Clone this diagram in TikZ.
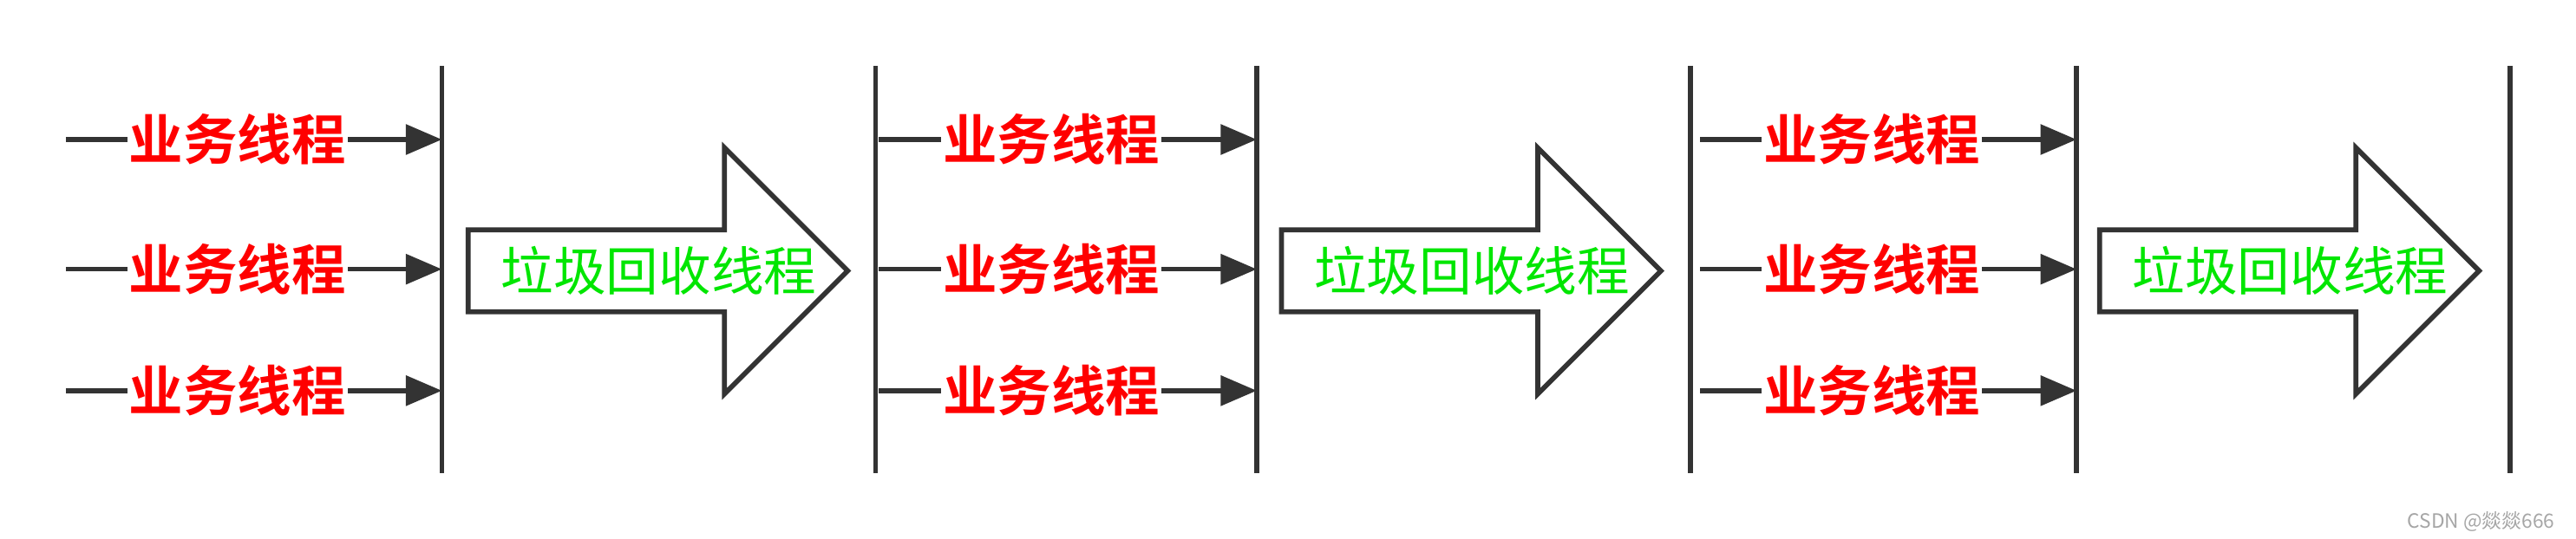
\documentclass[tikz,border=0pt]{standalone}
\usepackage{fontspec}
\newfontfamily\cjk{Noto Sans CJK SC}
\newfontfamily\cjkb{Noto Sans CJK SC Bold}
\usetikzlibrary{arrows.meta}
\definecolor{dk}{HTML}{333333}
\tikzset{
 wl/.style={draw=dk,line width=1.5pt},
 biz/.style={fill=white,inner sep=0.5pt,text=red,font=\cjkb\fontsize{16.5}{16.5}\selectfont},
 conn/.style={draw=dk,line width=1.5pt,-{Triangle[length=11pt,width=9pt]}},
 gc/.style={text={rgb,255:red,0;green,230;blue,0},font=\cjk\fontsize{16}{16}\selectfont}
}
\begin{document}
\begin{tikzpicture}[x=0.5pt,y=-0.5pt]
\useasboundingbox (0,0) rectangle (1568,328);
\foreach \n/\x in {a/269,b/533,c/765,d/1029,e/1264,f/1528}{
  \coordinate (\n t) at (\x,40); \coordinate (\n b) at (\x,288);
  \draw[wl] (\n t) -- (\n b);
}
\foreach \g/\s/\e in {1/40/269,2/535/765,3/1035/1264}{
  \foreach \r/\y in {1/85,2/164,3/238}{
    \coordinate (s\g\r) at (\s,\y); \coordinate (e\g\r) at (\e,\y);
    \draw[conn] (s\g\r) -- (e\g\r);
    \node[biz] (l\g\r) at ({(\s+\e)/2-10},\y) {业务线程};
  }
}
\foreach \g/\x in {1/285,2/780,3/1278}{
  \draw[draw=dk,line width=1.5pt,fill=white] (\x,140) -- (\x+156,140) -- (\x+156,90) -- (\x+231,165) -- (\x+156,240) -- (\x+156,190) -- (\x,190) -- cycle;
  \node[gc] (gc\g) at (\x+116,165) {垃圾回收线程};
}
\node[text=gray!70,font=\cjk\fontsize{6}{6}\selectfont,anchor=east] (wm) at (1562,318) {CSDN @燚燚666};
\end{tikzpicture}
\end{document}
